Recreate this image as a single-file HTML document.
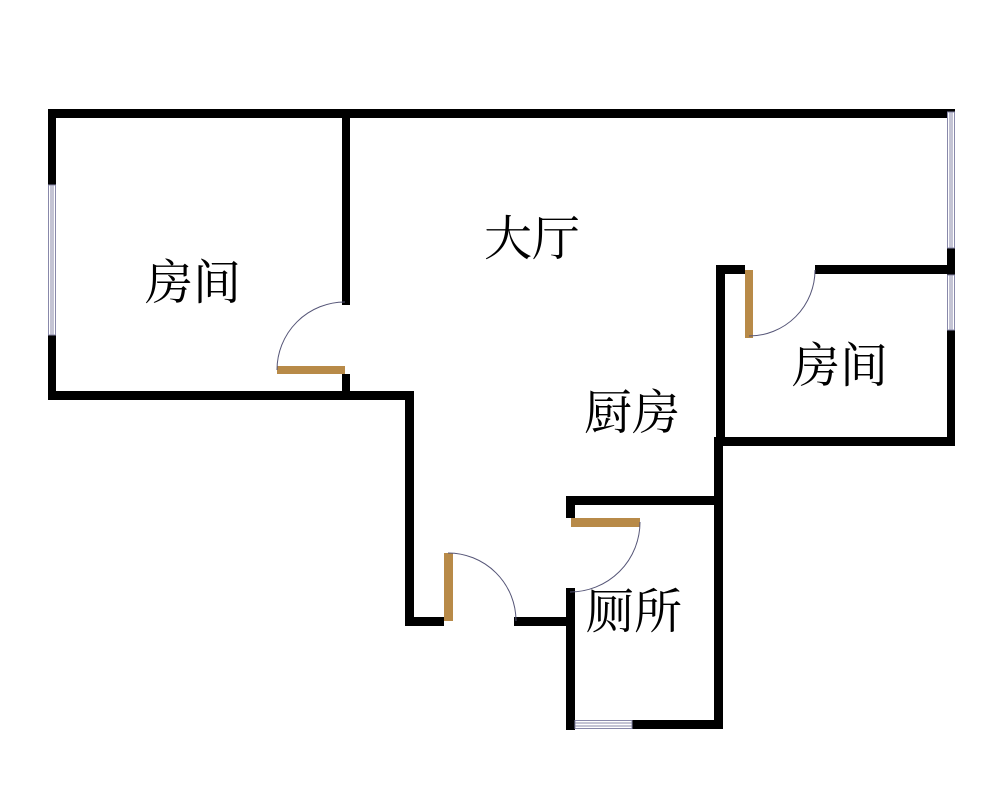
<!DOCTYPE html>
<html><head><meta charset="utf-8"><style>
html,body{margin:0;padding:0;background:#fff;width:1000px;height:802px;overflow:hidden}
text{font-family:"Liberation Serif","Noto Serif CJK SC",serif;font-size:48px;fill:#000}
</style></head><body>
<svg width="1000" height="802" viewBox="0 0 1000 802" xmlns="http://www.w3.org/2000/svg">
<g fill="#000">
<rect x="48" y="109" width="907" height="9"/>
<rect x="48" y="109" width="8" height="76"/>
<rect x="48" y="335" width="8" height="65"/>
<rect x="48" y="391" width="366" height="9"/>
<rect x="342" y="109" width="8" height="196"/>
<rect x="342" y="374" width="8" height="26"/>
<rect x="405" y="391" width="9" height="235"/>
<rect x="405" y="617" width="39" height="9"/>
<rect x="514" y="617" width="57" height="9"/>
<rect x="566" y="588" width="9" height="142"/>
<rect x="566" y="720" width="9" height="10"/>
<rect x="632" y="720" width="91" height="9"/>
<rect x="714" y="437" width="9" height="292"/>
<rect x="566" y="496" width="157" height="9"/>
<rect x="566" y="496" width="9" height="22"/>
<rect x="716" y="265" width="9" height="181"/>
<rect x="716" y="265" width="29" height="9"/>
<rect x="815" y="265" width="140" height="9"/>
<rect x="947" y="248" width="8" height="27"/>
<rect x="947" y="330" width="8" height="116"/>
<rect x="716" y="437" width="239" height="9"/>
</g>
<g fill="#fff" stroke="#8888aa" stroke-width="1">
<rect x="48.5" y="185" width="7" height="150"/>
<rect x="947.5" y="112" width="7" height="136"/>
<rect x="947.5" y="275" width="7" height="55"/>
<rect x="575" y="720.5" width="57" height="8"/>
</g>
<g stroke="#8888aa" stroke-width="1">
<line x1="51" y1="185" x2="51" y2="335"/><line x1="53" y1="185" x2="53" y2="335"/>
<line x1="950" y1="112" x2="950" y2="248"/><line x1="952" y1="112" x2="952" y2="248"/>
<line x1="950" y1="275" x2="950" y2="330"/><line x1="952" y1="275" x2="952" y2="330"/>
<line x1="575" y1="723" x2="632" y2="723"/><line x1="575" y1="726" x2="632" y2="726"/>
</g>
<g fill="#b88a48">
<rect x="277" y="366" width="68" height="8"/>
<rect x="444" y="553" width="9" height="68"/>
<rect x="571" y="518" width="69" height="9"/>
<rect x="745" y="270" width="8" height="68"/>
</g>
<g fill="none" stroke="#555577" stroke-width="1">
<path d="M277 370 A68 68 0 0 1 345 302"/>
<path d="M448 553 A68 68 0 0 1 516 621"/>
<path d="M640 522 A70 70 0 0 1 570 592"/>
<path d="M815 270 A66 66 0 0 1 749 336"/>
</g>
<text x="532" y="255" text-anchor="middle">大厅</text>
<text x="193" y="299" text-anchor="middle">房间</text>
<text x="840" y="382" text-anchor="middle">房间</text>
<text x="632" y="429" text-anchor="middle">厨房</text>
<text x="634" y="628" text-anchor="middle">厕所</text>
</svg>
</body></html>
